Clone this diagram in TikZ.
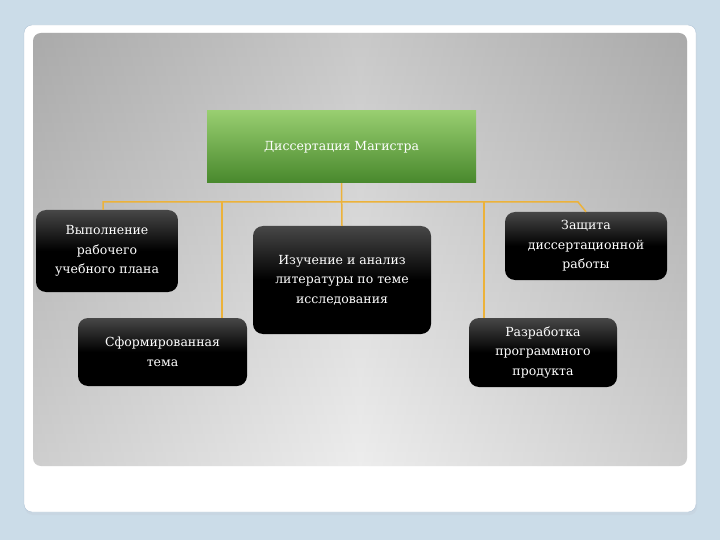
\documentclass[tikz,border=0pt]{standalone}
\usepackage{fontspec}
\setmainfont{DejaVu Serif}
\usepackage{xcolor}
\usetikzlibrary{positioning, shadows, calc}

\definecolor{slidebg}{RGB}{203,220,232}
\definecolor{cardedge}{RGB}{176,196,214}
\definecolor{linkcol}{RGB}{236,178,58}
\definecolor{greentop}{RGB}{152,206,112}
\definecolor{greenbot}{RGB}{72,136,44}

\begin{document}
\begin{tikzpicture}[x=1pt, y=-1pt,
    box/.style={rounded corners=10pt, top color=black!72, bottom color=black, middle color=black,
        shading angle=0, text=white, align=center, inner sep=2pt,
        font=\fontsize{12.5}{19.5}\selectfont},
    master/.style={top color=greentop, bottom color=greenbot, text=white,
        minimum width=269pt, minimum height=72pt, font=\fontsize{12.5}{16}\selectfont},
    link/.style={draw=linkcol, line width=1.5pt}]
    % Background and card
    \fill[slidebg] (0,0) rectangle (720,540);
    \fill[cardedge!70] (25,28) [rounded corners=8pt] rectangle (697,515);
    \draw[cardedge, fill=white, rounded corners=8pt] (24,25) rectangle (696,512);

    % Gray panel
    \shade[rounded corners=8pt, top color={rgb,255:red,186;green,186;blue,186},
        bottom color={rgb,255:red,232;green,232;blue,232}] (33,33) rectangle (687,466);
    \shade[rounded corners=8pt, left color=black!55, right color=black!55, middle color=white,
        opacity=0.22] (33,33) rectangle (687,466);

    % Boxes
    \node[master] (diss) at (341.5,147) {Диссертация Магистра};
    \node[box, minimum width=142pt, minimum height=82pt] (plan) at (107,251)
        {Выполнение\\рабочего\\учебного плана};
    \node[box, minimum width=169pt, minimum height=68pt] (topic) at (162.5,352)
        {Сформированная\\тема};
    \node[box, minimum width=178pt, minimum height=108pt] (study) at (342,280)
        {Изучение и анализ\\литературы по теме\\исследования};
    \node[box, minimum width=162pt, minimum height=68pt] (defence) at (586,246)
        {Защита\\диссертационной\\работы};
    \node[box, minimum width=148pt, minimum height=69pt] (product) at (543,352.5)
        {Разработка\\программного\\продукта};

    % Connectors
    \coordinate (busL) at (103,202);
    \coordinate (busR) at (578,202);
    \coordinate (tapL) at (222,202);
    \coordinate (tapR) at (484,202);
    \draw[link] (diss.south) -- (study.north);
    \draw[link] (busL |- plan.north) -- (busL) -- (busR) -- (defence.north);
    \draw[link] (tapL) -- (tapL |- topic.north);
    \draw[link] (tapR) -- (tapR |- product.north);
\end{tikzpicture}
\end{document}
